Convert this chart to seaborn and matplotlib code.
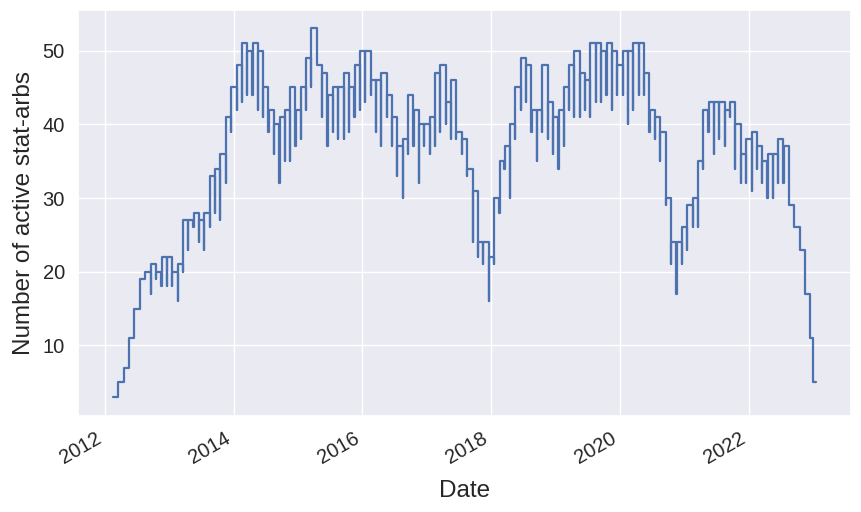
import numpy as np
import pandas as pd
import matplotlib
matplotlib.use("Agg")
import matplotlib.pyplot as plt
import seaborn as sns

# Monthly plateau values (transition around the 18th of each month, Jan 2012 .. Dec 2022)
values = [3, 5, 7, 11, 15, 19, 20, 21, 20, 22, 22, 20,
          21, 27, 27, 28, 27, 28, 33, 34, 36, 41, 45, 48,
          51, 50, 51, 50, 45, 42, 40, 41, 42, 45, 42, 45,
          49, 53, 48, 47, 44, 45, 45, 47, 45, 48, 50, 50,
          46, 46, 47, 44, 41, 37, 38, 44, 42, 40, 40, 41,
          47, 48, 43, 46, 39, 38, 34, 31, 24, 24, 22, 30,
          35, 37, 40, 45, 49, 48, 42, 42, 48, 43, 41, 42,
          45, 48, 50, 47, 46, 51, 51, 50, 51, 50, 48, 50,
          50, 51, 51, 47, 42, 41, 39, 30, 24, 24, 26, 29,
          30, 35, 42, 43, 43, 43, 42, 43, 40, 36, 38, 39,
          37, 35, 36, 36, 38, 37, 29, 26, 23, 17, 11, 5]

# Brief dip at each monthly rebalance (nan = no dip)
dips = [np.nan, np.nan, np.nan, np.nan, np.nan, np.nan, np.nan, 17, 19, 18, 18, 18,
        16, 20, 23, 26, 24, 23, 26, 28, 27, 32, 39, 42,
        43, 44, 44, 42, 41, 39, 36, 32, 35, 35, 37, 38,
        42, 45, np.nan, 41, 37, 39, 38, 38, 39, 41, 42, 43,
        44, 39, 37, 41, 37, 33, 30, 36, 37, 32, 37, 36,
        37, 39, 40, 38, 38, 36, 33, 24, 22, 21, 16, 21,
        28, 34, 30, 38, 42, 43, 39, 35, 39, 38, 36, 34,
        37, 42, 41, 41, 42, 41, 43, 43, 44, 42, 44, 44,
        40, 42, 44, 44, 39, 38, 35, 29, 21, 17, 21, 23,
        26, 26, 34, 39, 36, 38, 37, 41, 34, 32, 32, 31,
        34, 32, 30, 30, 32, 32, np.nan, np.nan, np.nan, np.nan, np.nan, np.nan]

start_date = "2012-01-18"
end_date = "2022-12-30"

months = pd.date_range(start_date, periods=len(values), freq="MS") + pd.Timedelta(days=17)
dates, counts = [], []
for t, v, d in zip(months, values, dips):
    if not np.isnan(d):
        dates.append(t)
        counts.append(d)
        dates.append(t + pd.Timedelta(days=1))
        counts.append(v)
    else:
        dates.append(t)
        counts.append(v)
dates.append(pd.Timestamp(end_date))
counts.append(values[-1])
df = pd.DataFrame({"Date": dates, "count": counts})

sns.set_theme(style="darkgrid")
plt.rcParams["font.family"] = ["Liberation Sans", "DejaVu Sans"]

fig = plt.figure(figsize=(8.62, 5.12), dpi=100)
ax = fig.add_axes([78 / 862, 1 - 415.5 / 512, (851 - 78) / 862, (415.5 - 10) / 512])
sns.lineplot(data=df, x="Date", y="count", ax=ax, estimator=None,
             drawstyle="steps-post", color="#4c72b0", linewidth=1.6)
ax.set_xlabel("Date", fontsize=17.5, labelpad=9)
ax.set_ylabel("Number of active stat-arbs", fontsize=17.5, labelpad=5)
ax.tick_params(axis="both", labelsize=14.5)
ax.set_yticks([10, 20, 30, 40, 50])
for lab in ax.get_xticklabels():
    lab.set_rotation(30)
    lab.set_ha("right")
fig.savefig("out.png", dpi=100)
